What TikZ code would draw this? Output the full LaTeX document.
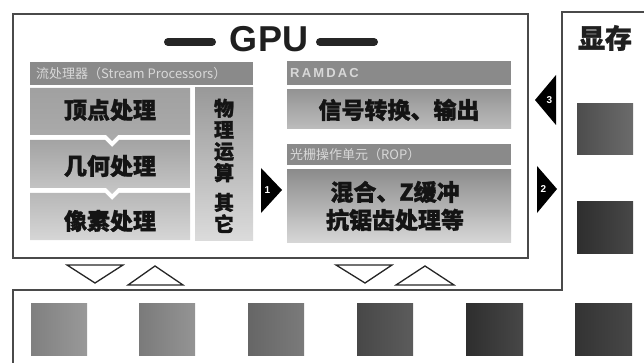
\documentclass[tikz,border=0pt]{standalone}
\usepackage{fontspec}
\setmainfont{Liberation Sans}
\newfontfamily\cjk{Noto Sans CJK SC}
\newfontfamily\cjkheavy{Noto Sans CJK SC}[BoldFeatures={FakeBold=1.2}]
\definecolor{hdrgray}{HTML}{8A8A8A}
\definecolor{hdrtxt}{HTML}{D8D8D8}
\definecolor{framegray}{HTML}{4A4A4A}
\begin{document}
\begin{tikzpicture}[x=1pt,y=-1pt,
  frame/.style={draw=framegray, line width=1.4pt},
  hdr/.style={fill=hdrgray},
  hdrtext/.style={text=hdrtxt, font=\cjk\fontsize{13}{13}\selectfont, anchor=west, inner sep=0pt},
  bigtext/.style={font=\cjkheavy\bfseries\fontsize{23}{28}\selectfont, text=black!92, inner sep=0pt, align=center},
  verttext/.style={font=\cjkheavy\bfseries\fontsize{20}{21.5}\selectfont, text=black!92, inner sep=0pt, align=center},
  tri/.style={draw=black!85, line width=1.3pt, fill=white, line join=miter},
  arrowtri/.style={fill=black},
  num/.style={text=white, font=\bfseries\fontsize{10}{10}\selectfont, inner sep=0pt},
  dashbar/.style={line width=8pt, black!85, line cap=round}
]
\useasboundingbox (0,0) rectangle (644,363);

% outer frames
\draw[frame] (13,14) rectangle (528,258);
\draw[frame] (13,365) -- (13,290) -- (562,290) -- (562,12) -- (646,12);

% title
\node[font=\bfseries\fontsize{36}{36}\selectfont, text=black!88, inner sep=0pt] (gpu) at (269,39) {GPU};
\draw[dashbar] (168,42) -- (212,42);
\draw[dashbar] (320,42) -- (374,42);
\node[font=\cjkheavy\bfseries\fontsize{27}{27}\selectfont, text=black!88, inner sep=0pt] (vram) at (605,38) {显存};

% stream processor section
\fill[hdr] (30,62) rectangle (253,85);
\node[hdrtext] (sphdr) at (36,73.5) {流处理器（Stream Processors）};
\shade[top color=black!37, bottom color=black!33] (30,88) -- (190,88) -- (190,135) -- (118,135) -- (112,141) -- (106,135) -- (30,135) -- cycle;
\shade[top color=black!36, bottom color=black!22] (30,140) -- (105,140) -- (112,147) -- (119,140) -- (190,140) -- (190,188) -- (118,188) -- (112,194) -- (106,188) -- (30,188) -- cycle;
\shade[top color=black!28, bottom color=black!16] (30,193) -- (105,193) -- (112,200) -- (119,193) -- (190,193) -- (190,240) -- (30,240) -- cycle;
\shade[top color=black!40, bottom color=black!14] (195,88) rectangle (253,240);
\node[bigtext] (vertex) at (110,110) {顶点处理};
\node[bigtext] (geom) at (110,166) {几何处理};
\node[bigtext] (pixel) at (110,221) {像素处理};
\node[verttext] (phys) at (224,140.5) {物\\理\\运\\算};
\node[verttext] (other) at (224,213) {其\\它};

% RAMDAC / ROP section
\fill[hdr] (287,61) rectangle (511,85);
\node[hdrtext, font=\bfseries\fontsize{13}{13}\selectfont] (ramhdr) at (290,73) {R\,A\,M\,D\,A\,C};
\shade[top color=black!42, bottom color=black!26] (287,90) rectangle (511,129);
\node[bigtext] (signal) at (399,110) {信号转换、输出};
\fill[hdr] (287,144) rectangle (511,165);
\node[hdrtext] (rophdr) at (290,154.5) {光栅操作单元（ROP）};
\shade[top color=black!45, bottom color=black!16] (287,170) rectangle (511,242);
\node[bigtext] (rop) at (395,206) {混合、Z缓冲\\抗锯齿处理等};

% numbered arrows
\fill[arrowtri] (261,168) -- (282,190) -- (261,213) -- cycle;
\node[num] (n1) at (267.5,190) {1};
\fill[arrowtri] (537,166) -- (557,189) -- (537,213) -- cycle;
\node[num] (n2) at (543.5,189) {2};
\fill[arrowtri] (556,75) -- (535,100) -- (556,125) -- cycle;
\node[num] (n3) at (549.5,100) {3};

% transfer triangles
\draw[tri] (67,265) -- (123,265) -- (95,283) -- cycle;
\draw[tri] (128,285) -- (183,285) -- (155,266) -- cycle;
\draw[tri] (336,265) -- (392,265) -- (365,283) -- cycle;
\draw[tri] (396,285) -- (454,285) -- (425,266) -- cycle;

% memory chips
\shade[left color=black!50, right color=black!40] (31,303) rectangle (87,355);
\shade[left color=black!52, right color=black!42] (139,303) rectangle (195,355);
\shade[left color=black!60, right color=black!52] (248,303) rectangle (304,355);
\shade[left color=black!72, right color=black!64] (357,303) rectangle (413,355);
\shade[left color=black!82, right color=black!72] (466,303) rectangle (523,355);
\shade[left color=black!80, right color=black!72] (575,303) rectangle (632,355);
\shade[left color=black!70, right color=black!58] (577,104) rectangle (633,155);
\shade[left color=black!82, right color=black!72] (577,202) rectangle (633,253);
\end{tikzpicture}
\end{document}
